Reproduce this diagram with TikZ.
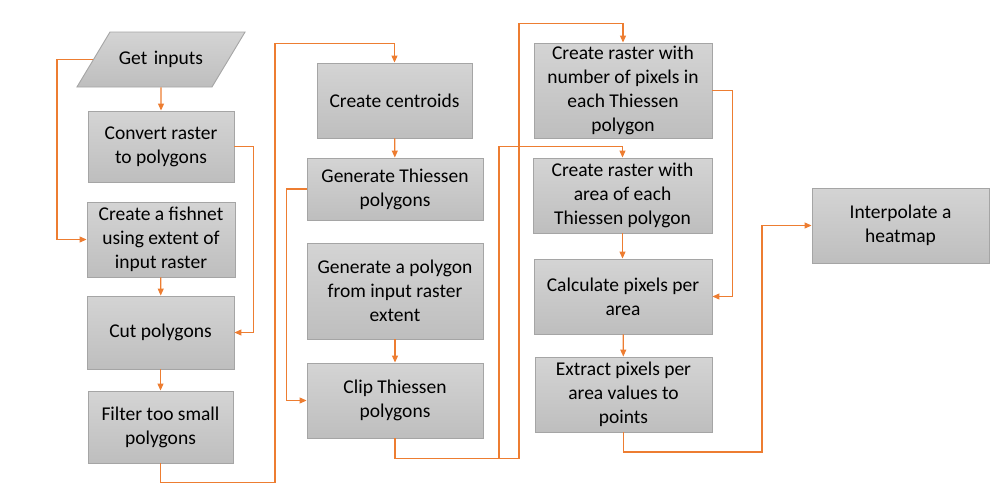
\documentclass[tikz,border=0pt]{standalone}
\usepackage{fontspec}
\setmainfont{Carlito}
\usetikzlibrary{arrows.meta,shapes.geometric}
\definecolor{boxtop}{HTML}{D4D4D4}
\definecolor{boxbot}{HTML}{BEBEBE}
\definecolor{boxline}{HTML}{A5A5A5}
\definecolor{flowline}{HTML}{ED7D31}

\begin{document}
\begin{tikzpicture}[x=1pt,y=-1pt,
    font=\fontsize{19.5}{24}\selectfont,
    stepbox/.style={draw=boxline,line width=0.9pt,top color=boxtop,bottom color=boxbot,
      align=center,inner sep=2pt},
    flow/.style={draw=flowline,line width=1.1pt,-{Triangle[length=7pt,width=6pt]}}]
    \useasboundingbox (0,0) rectangle (998,491);

    % first column
    \node[stepbox,trapezium,trapezium left angle=59,trapezium right angle=121,
      text width=85pt,text height=14pt,text depth=4pt,inner xsep=8.5pt,inner ysep=18.5pt]
      (input) at (161,59.5) {Get inputs};
    \node[stepbox,minimum width=146pt,minimum height=71pt] (convert) at (161,146.5) {Convert raster\\to polygons};
    \node[stepbox,minimum width=148pt,minimum height=75pt] (fishnet) at (161,239.5) {Create a fishnet\\using extent of\\input raster};
    \node[stepbox,minimum width=147pt,minimum height=73pt] (cut) at (160.5,332.5) {Cut polygons};
    \node[stepbox,minimum width=145pt,minimum height=72pt] (filter) at (160.5,427) {Filter too small\\polygons};

    % second column
    \node[stepbox,minimum width=155pt,minimum height=75pt] (centroids) at (394.5,100.5) {Create centroids};
    \node[stepbox,minimum width=176pt,minimum height=62pt] (thiessen) at (395,189) {Generate Thiessen\\polygons};
    \node[stepbox,minimum width=176pt,minimum height=96pt] (extent) at (395,291) {Generate a polygon\\from input raster\\extent};
    \node[stepbox,minimum width=176pt,minimum height=75pt] (clip) at (395,400.5) {Clip Thiessen\\polygons};

    % third column
    \node[stepbox,minimum width=178pt,minimum height=95pt] (count) at (623,90.5) {Create raster with\\number of pixels in\\each Thiessen\\polygon};
    \node[stepbox,minimum width=179pt,minimum height=75pt] (area) at (622.5,195.5) {Create raster with\\area of each\\Thiessen polygon};
    \node[stepbox,minimum width=178pt,minimum height=75pt] (ratio) at (623,296.5) {Calculate pixels per\\area};
    \node[stepbox,minimum width=177pt,minimum height=75pt] (extract) at (623.5,394.5) {Extract pixels per\\area values to\\points};

    \node[stepbox,minimum width=177pt,minimum height=75pt] (heatmap) at (900.5,225.5) {Interpolate a\\heatmap};

    % connectors
    \draw[flow] (input) -- (convert);
    \draw[flow] (input.west) -- ++(-36,0) |- (fishnet.west);
    \draw[flow] (convert.east) -- ++(19,0) |- (cut.east);
    \draw[flow] (fishnet) -- (cut);
    \draw[flow] (cut) -- (filter);
    \draw[flow] (filter.south) -- ++(0,19) -- ++(114.5,0) |- ([yshift=19pt]centroids.north) -- (centroids.north);

    \draw[flow] (centroids) -- (thiessen);
    \draw[flow] (thiessen.west) -- ++(-20,0) |- (clip.west);
    \draw[flow] (extent) -- (clip);
    \draw[flow] (clip.south) -- ++(0,20) -- ++(124,0) |- ([yshift=19pt]count.north) -- (count.north);
    \draw[flow] (clip.south) -- ++(0,20) -- ++(104,0) |- ([yshift=11.5pt]area.north) -- (area.north);

    \draw[flow] (count.east) -- ++(20,0) |- (ratio.east);
    \draw[flow] (area.south) -- (area.south |- ratio.north);
    \draw[flow] (ratio) -- (extract);
    \draw[flow] (extract.south) -- ++(0,19.5) -- ++(138.5,0) |- (heatmap.west);
  \end{tikzpicture}
\end{document}
